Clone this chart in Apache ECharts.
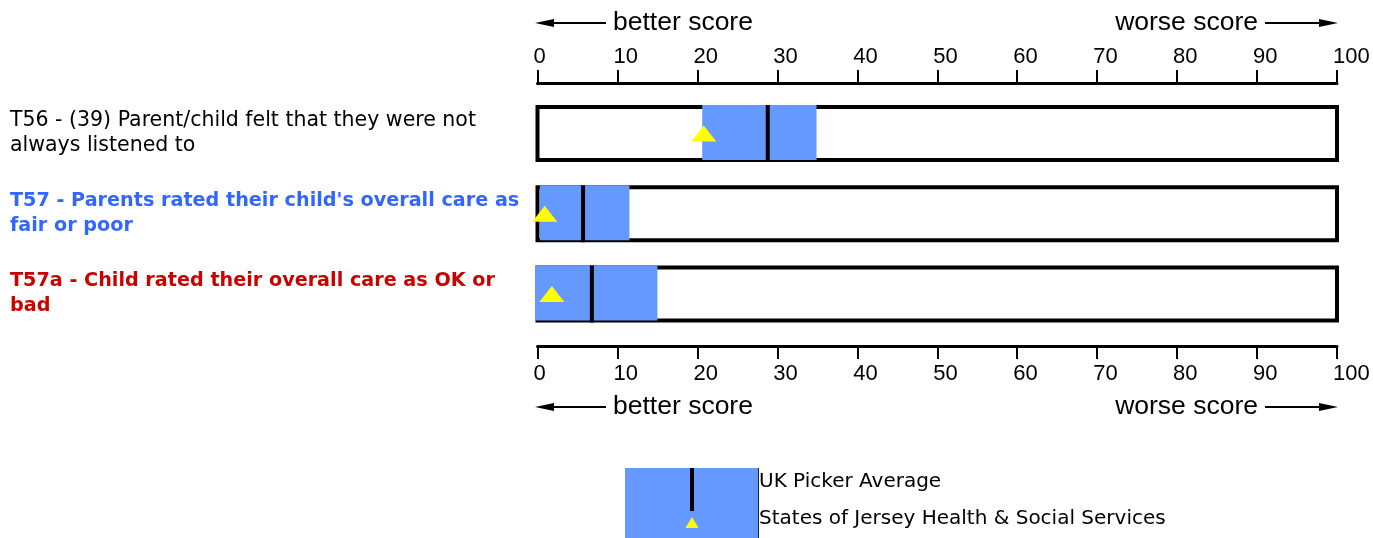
<!DOCTYPE html>
<html>
<head>
<meta charset="utf-8">
<script src="https://cdn.jsdelivr.net/npm/echarts@6/dist/echarts.min.js"></script>
<style>
html,body{margin:0;padding:0;background:#fff;overflow:hidden;}
#chart{width:1373px;height:538px;}
</style>
</head>
<body>
<div id="chart"></div>
<script>
// ---- data ----
const categories = ['T56', 'T57', 'T57a'];
const labelLines = [
  ['T56 - (39) Parent/child felt that they were not', 'always listened to'],
  ["T57 - Parents rated their child's overall care as", 'fair or poor'],
  ['T57a - Child rated their overall care as OK or', 'bad']
];
const labelStyles = ['k', 'b', 'r'];
const rangeLow = [20.6, 0.3, -0.3];
const rangeHigh = [34.9, 11.5, 15.0];
const pickerAvg = [28.8, 5.7, 6.8];
const jerseyScore = [20.8, 0.9, 1.8];
const scaleMin = 0;
const scaleMax = 100;
const tickStep = 10;
const legendNames = ['UK Picker Average', 'States of Jersey Health & Social Services'];
const betterText = 'better score';
const worseText = 'worse score';

const chart = echarts.init(document.getElementById('chart'), null, {renderer: 'canvas'});

const boxData = categories.map((c, i) => [i, scaleMin, scaleMax]);
const rangeData = categories.map((c, i) => [i, rangeLow[i], rangeHigh[i]]);
const avgData = categories.map((c, i) => [i, pickerAvg[i]]);
const jerseyData = categories.map((c, i) => [jerseyScore[i], i]);

const xAxisCommon = {
  type: 'value', min: scaleMin, max: scaleMax, interval: tickStep,
  splitLine: {show: false},
  axisLine: {show: true, lineStyle: {color: '#000', width: 3}},
  axisTick: {show: true, length: 13, lineStyle: {color: '#000', width: 2}},
  axisLabel: {color: '#000', fontFamily: 'Liberation Sans', fontSize: 22, align: 'left', padding: [0, 0, 0, -4]}
};

function arrowGroup(y) {
  return [
    {type: 'line', shape: {x1: 548, y1: y, x2: 606, y2: y}, style: {stroke: '#000', lineWidth: 2}},
    {type: 'polygon', shape: {points: [[535, y], [554, y - 4], [554, y + 4]]}, style: {fill: '#000'}},
    {type: 'text', style: {text: betterText, x: 613, y: y, verticalAlign: 'middle', font: '26.5px "Liberation Sans"', fill: '#000'}},
    {type: 'text', style: {text: worseText, x: 1258, y: y, align: 'right', verticalAlign: 'middle', font: '26.5px "Liberation Sans"', fill: '#000'}},
    {type: 'line', shape: {x1: 1265, y1: y, x2: 1325, y2: y}, style: {stroke: '#000', lineWidth: 2}},
    {type: 'polygon', shape: {points: [[1338, y], [1319, y - 4], [1319, y + 4]]}, style: {fill: '#000'}}
  ];
}

const option = {
  backgroundColor: '#fff',
  animation: false,
  grid: {left: 537.5, right: 36, top: 93.4, bottom: 203.9, containLabel: false, outerBoundsMode: 'none'},
  xAxis: [
    Object.assign({}, xAxisCommon, {position: 'top', offset: 10.4,
      axisLabel: Object.assign({}, xAxisCommon.axisLabel, {margin: 15})}),
    Object.assign({}, xAxisCommon, {position: 'bottom', offset: 11.9,
      axisLabel: Object.assign({}, xAxisCommon.axisLabel, {margin: 17})})
  ],
  yAxis: {
    type: 'category', data: categories, inverse: true,
    axisLine: {show: false}, axisTick: {show: false}, splitLine: {show: false},
    axisLabel: {
      align: 'left', margin: 527.5,
      formatter: (v, i) => labelLines[i].map(l => '{' + labelStyles[i] + '|' + l + '}').join('\n'),
      rich: {
        k: {color: '#000', fontWeight: 'normal', fontFamily: 'DejaVu Sans', fontSize: 20.5, lineHeight: 25},
        b: {color: '#3366FF', fontWeight: 'bold', fontFamily: 'DejaVu Sans', fontSize: 19.2, lineHeight: 25},
        r: {color: '#CC0000', fontWeight: 'bold', fontFamily: 'DejaVu Sans', fontSize: 19.2, lineHeight: 25}
      }
    }
  },
  series: [
    {
      type: 'custom', name: 'box', xAxisIndex: 0, data: boxData, z: 1, clip: false,
      renderItem: function (params, api) {
        const row = api.value(0);
        const p0 = api.coord([api.value(1), row]);
        const p1 = api.coord([api.value(2), row]);
        return {type: 'rect', shape: {x: p0[0], y: p0[1] - 26.5, width: p1[0] - p0[0], height: 53},
          style: {fill: '#fff', stroke: '#000', lineWidth: 4}};
      }
    },
    {
      type: 'custom', name: 'range', xAxisIndex: 0, data: rangeData, z: 2, clip: false,
      renderItem: function (params, api) {
        const row = api.value(0);
        const p0 = api.coord([api.value(1), row]);
        const p1 = api.coord([api.value(2), row]);
        return {type: 'rect', shape: {x: p0[0], y: p0[1] - 28.5, width: p1[0] - p0[0], height: 55},
          style: {fill: '#6699FF'}};
      }
    },
    {
      type: 'custom', name: legendNames[0], xAxisIndex: 0, data: avgData, z: 3, clip: false,
      renderItem: function (params, api) {
        const row = api.value(0);
        const p = api.coord([api.value(1), row]);
        return {type: 'rect', shape: {x: p[0] - 2, y: p[1] - 28.5, width: 4, height: 57},
          style: {fill: '#000'}};
      }
    },
    {
      type: 'scatter', name: legendNames[1], xAxisIndex: 0, data: jerseyData, z: 4,
      symbol: 'triangle', symbolSize: [25, 16], clip: false,
      itemStyle: {color: '#FFFF00', opacity: 1}
    }
  ],
  graphic: [
    ...arrowGroup(23),
    ...arrowGroup(407),
    {type: 'rect', shape: {x: 625, y: 468, width: 133, height: 72}, style: {fill: '#6699FF'}},
    {type: 'line', shape: {x1: 758.5, y1: 468, x2: 758.5, y2: 540}, style: {stroke: '#222', lineWidth: 1}},
    {type: 'rect', shape: {x: 690, y: 468, width: 4, height: 43}, style: {fill: '#000'}},
    {type: 'polygon', shape: {points: [[692, 517], [685.5, 528], [698.5, 528]]}, style: {fill: '#FFFF00'}},
    {type: 'text', style: {text: legendNames[0], x: 759, y: 482, verticalAlign: 'middle', font: '20px "DejaVu Sans"', fill: '#000'}},
    {type: 'text', style: {text: legendNames[1], x: 759, y: 519, verticalAlign: 'middle', font: '20px "DejaVu Sans"', fill: '#000'}}
  ]
};
chart.setOption(option);
</script>
</body>
</html>
